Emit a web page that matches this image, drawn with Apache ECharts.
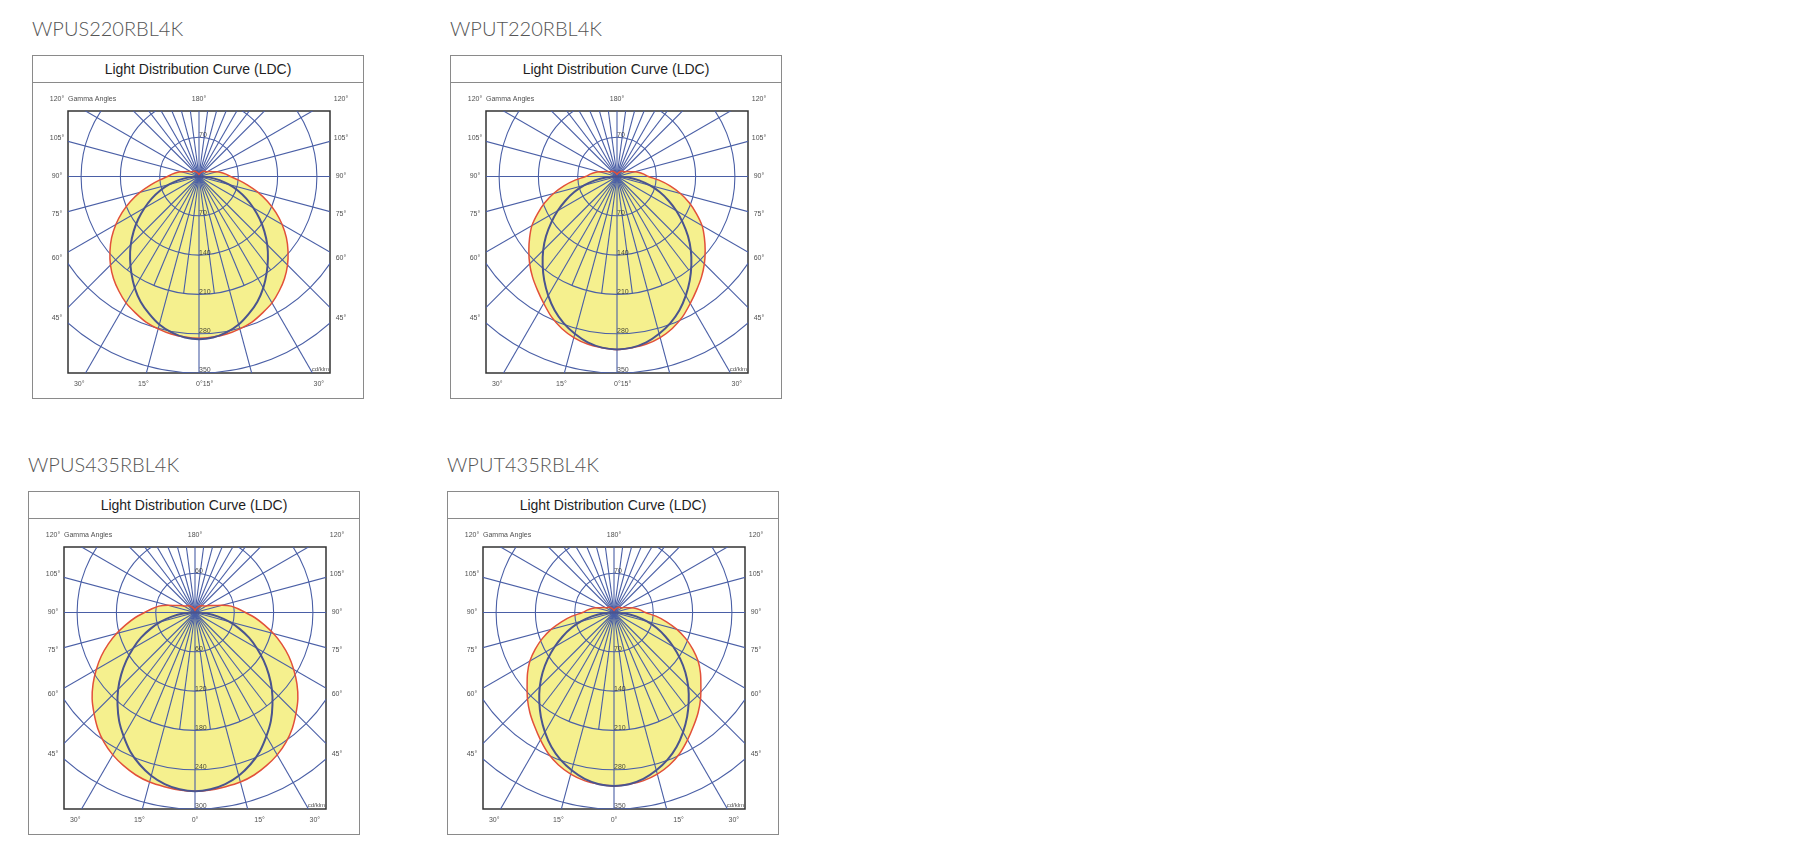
<!DOCTYPE html>
<html lang="en">
<head>
  <meta charset="UTF-8">
  <title>Light Distribution Curves</title>
  <script src="https://cdn.jsdelivr.net/npm/echarts@6/dist/echarts.min.js"></script>
  <style>
    body { margin: 0; background: #fff; width: 1800px; height: 850px; position: relative; overflow: hidden; }
    .name { position: absolute; font-family: Lato, sans-serif; font-weight: 300; font-size: 20px; line-height: 20px; color: #555; white-space: nowrap; }
    .box { position: absolute; width: 330px; height: 342px; border: 1px solid #8a8a8a; }
    .head { height: 26px; line-height: 26px; border-bottom: 1px solid #8a8a8a; text-align: center;
            font-family: "Liberation Sans", Arial, sans-serif; font-size: 14px; color: #1e1e1e; }
    .plot { position: absolute; left: 0; top: 0; width: 330px; height: 342px; }
  </style>
</head>
<body>
<div class="name" style="left:32px;top:18px">WPUS220RBL4K</div>
<div class="box" style="left:32px;top:55px"><div class="head">Light Distribution Curve (LDC)</div><div id="ldc1" class="plot"></div></div>

<div class="name" style="left:450px;top:18px">WPUT220RBL4K</div>
<div class="box" style="left:450px;top:55px"><div class="head">Light Distribution Curve (LDC)</div><div id="ldc2" class="plot"></div></div>

<div class="name" style="left:28px;top:454px">WPUS435RBL4K</div>
<div class="box" style="left:28px;top:491px"><div class="head">Light Distribution Curve (LDC)</div><div id="ldc3" class="plot"></div></div>

<div class="name" style="left:447px;top:454px">WPUT435RBL4K</div>
<div class="box" style="left:447px;top:491px"><div class="head">Light Distribution Curve (LDC)</div><div id="ldc4" class="plot"></div></div>

<script>
  // gamma angles the intensities are read at (0 = straight down, 180 = straight up)
  const gammaDeg = [0, 5, 10, 15, 20, 25, 30, 35, 40, 45, 50, 55, 60, 65, 70, 75, 80, 85, 90,
    95, 100, 105, 110, 115, 120, 125, 130, 135, 140, 145, 150, 155, 160, 165, 170, 175, 180];

  // cd/klm, red = C0-C180 plane, blue = C90-C270 plane (0..90 deg)
  const p1Red = [288, 287, 285, 281, 276, 268, 260, 249, 237, 223, 207, 190, 171, 151, 130, 109, 88, 70, 56,
    48, 40, 32, 25, 21, 17, 15, 14, 13, 12, 11, 9, 8, 7, 6, 5, 4, 3];
  const p1Blue = [290, 288, 282, 273, 260, 246, 229, 210, 191, 172, 152, 132, 112, 93, 74, 55, 37, 18, 0];

  const p2Red = [308, 306, 303, 297, 288, 276, 261, 247, 234, 220, 205, 190, 175, 156, 137, 117, 96, 75, 56,
    48, 40, 32, 25, 21, 17, 15, 14, 13, 12, 11, 9, 8, 7, 6, 5, 4, 3];
  const p2Blue = [308, 306, 300, 290, 278, 263, 245, 226, 206, 186, 165, 143, 122, 101, 81, 60, 40, 20, 0];

  const p3Red = [273, 272, 270, 268, 264, 258, 251, 242, 231, 218, 205, 190, 174, 158, 141, 124, 107, 92, 77,
    66, 56, 43, 31, 25, 20, 17, 16, 15, 13, 12, 10, 9, 7, 6, 5, 4, 3];
  const p3Blue = [273, 271, 266, 258, 247, 234, 218, 202, 184, 166, 147, 128, 109, 91, 72, 54, 36, 18, 0];

  const p4Red = [309, 307, 304, 298, 289, 277, 262, 247, 233, 218, 202, 188, 173, 155, 136, 116, 95, 75, 56,
    48, 40, 32, 25, 21, 17, 15, 14, 13, 12, 11, 9, 8, 7, 6, 5, 4, 3];
  const p4Blue = [309, 307, 301, 291, 279, 264, 246, 227, 207, 187, 166, 144, 122, 101, 81, 60, 40, 20, 0];

  // radial scale step of each panel (5 rings)
  const ringSteps = [70, 70, 60, 70];

  // angle grid: long rays every 15 deg, short rays in between near the vertical
  const minorRays = [7.5, 22.5, 37.5, 142.5, 157.5, 172.5];
  const sideAngles = [105, 90, 75, 60, 45];
  const bottomAnglesA = [-30, -15, 0, 30];
  const bottomTextA = ['30°', '15°', '0°15°', '30°'];
  const bottomAnglesB = [-30, -15, 0, 15, 30];
  const bottomTextB = ['30°', '15°', '0°', '15°', '30°'];

  const GRID = '#4a5fa6';
  const DEG = Math.PI / 180;

  function pt(r, g, side) {
    return [side * r * Math.sin(g * DEG), -r * Math.cos(g * DEG)];
  }

  // closed outline: left half 180 -> 0, right half 0 -> 180
  function outline(vals) {
    const pts = [];
    for (let i = vals.length - 1; i >= 0; i--) pts.push(pt(vals[i], gammaDeg[i], -1));
    for (let i = 1; i < vals.length - 1; i++) pts.push(pt(vals[i], gammaDeg[i], 1));
    return pts;
  }

  function curve(pts, style, z) {
    return {
      type: 'custom', coordinateSystem: 'cartesian2d', clip: true, silent: true, z: z,
      data: [[0, 0]],
      renderItem: function (params, api) {
        return {
          type: 'polygon',
          shape: { points: pts.map(function (p) { return api.coord(p); }), smooth: 0.3 },
          style: style
        };
      }
    };
  }

  function ldcOption(step, red, blue, bottomAngles, bottomText) {
    const R = step * 5;
    const xMax = R * 2 / 3;
    const yTop = R / 3;
    const u = R / 196.5;           // data units per pixel
    const L = xMax + 11 * u;       // column of the side labels
    const yRow = yTop + 12 * u;    // row of the top labels
    const yBot = R + 11 * u;       // row of the bottom labels

    const gridLines = {
      type: 'custom', coordinateSystem: 'cartesian2d', clip: true, silent: true, z: 2,
      data: [[0, 0]],
      renderItem: function (params, api) {
        const c = api.coord([0, 0]);
        const kids = [];
        for (let k = 1; k <= 5; k++) {
          const r = api.size([k * step, 0])[0];
          kids.push({ type: 'circle', shape: { cx: c[0], cy: c[1], r: r },
            style: { fill: 'none', stroke: GRID, lineWidth: 1.1 } });
        }
        for (let g = 0; g < 360; g += 15) {
          const e = api.coord(pt(2 * R, g, 1));
          kids.push({ type: 'line', shape: { x1: c[0], y1: c[1], x2: e[0], y2: e[1] },
            style: { stroke: GRID, lineWidth: 1.1 } });
        }
        minorRays.forEach(function (g) {
          [-1, 1].forEach(function (s) {
            const e = api.coord(pt(3 * step, g, s));
            kids.push({ type: 'line', shape: { x1: c[0], y1: c[1], x2: e[0], y2: e[1] },
              style: { stroke: GRID, lineWidth: 1.1 } });
          });
        });
        return { type: 'group', children: kids };
      }
    };

    const labels = [];
    function lab(x, y, text, extra) {
      const d = { value: [x, y], name: text };
      if (extra) d.label = extra;
      labels.push(d);
    }
    lab(-L, yRow, '120°');
    lab(-xMax, yRow, 'Gamma Angles', { align: 'left' });
    lab(0, yRow, '180°');
    lab(L, yRow, '120°');
    sideAngles.forEach(function (g) {
      const y = -L * Math.cos(g * DEG) / Math.sin(g * DEG);
      lab(-L, y, g + '°');
      lab(L, y, g + '°');
    });
    bottomAngles.forEach(function (a, i) {
      const t = bottomText[i];
      let extra = null;
      if (t === '0°15°') extra = { align: 'left', offset: [-3, 0] };
      else if (a === 15) extra = { offset: [9, 0] };
      lab(yBot * Math.tan(a * DEG), -yBot, t, extra);
    });
    const radial = { align: 'left', verticalAlign: 'bottom', offset: [0, 1] };
    lab(0, step, String(step), radial);
    for (let k = 1; k <= 5; k++) lab(0, -k * step, String(k * step), radial);
    lab(xMax, -R, 'cd/klm', { align: 'right', verticalAlign: 'bottom', fontSize: 6, offset: [-1, -1] });

    return {
      animation: false,
      grid: { left: 35, top: 55, width: 262, height: 262, show: true, borderColor: '#333', borderWidth: 1.5 },
      xAxis: { type: 'value', min: -xMax, max: xMax, show: false },
      yAxis: { type: 'value', min: -R, max: yTop, show: false },
      series: [
        curve(outline(red), { fill: '#f5f08e', stroke: 'none' }, 1),
        gridLines,
        curve(outline(red), { fill: 'none', stroke: '#e2503a', lineWidth: 1.5 }, 3),
        curve(outline(blue), { fill: 'none', stroke: '#4a548f', lineWidth: 2 }, 4),
        {
          type: 'scatter', clip: false, silent: true, z: 10,
          symbolSize: 1, itemStyle: { color: 'rgba(0,0,0,0)' },
          label: {
            show: true, position: 'inside', formatter: '{b}', color: '#222',
            fontSize: 7, fontFamily: '"Liberation Sans", Arial, sans-serif',
            align: 'center', verticalAlign: 'middle'
          },
          data: labels
        }
      ]
    };
  }

  const panels = [
    ['ldc1', ringSteps[0], p1Red, p1Blue, bottomAnglesA, bottomTextA],
    ['ldc2', ringSteps[1], p2Red, p2Blue, bottomAnglesA, bottomTextA],
    ['ldc3', ringSteps[2], p3Red, p3Blue, bottomAnglesB, bottomTextB],
    ['ldc4', ringSteps[3], p4Red, p4Blue, bottomAnglesB, bottomTextB]
  ];
  panels.forEach(function (p) {
    const chart = echarts.init(document.getElementById(p[0]), null, { renderer: 'canvas' });
    chart.setOption(ldcOption(p[1], p[2], p[3], p[4], p[5]));
  });
</script>
</body>
</html>
